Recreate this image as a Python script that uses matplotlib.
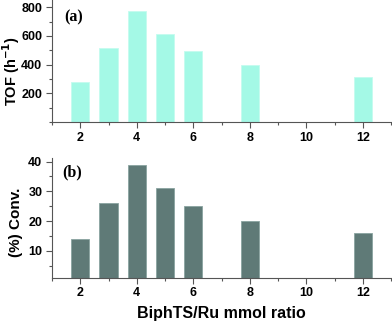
import matplotlib
matplotlib.use("Agg")
import matplotlib.pyplot as plt
from matplotlib.ticker import MultipleLocator

# BiphTS/Ru ratios and measured values
ratio = [2, 3, 4, 5, 6, 8, 12]
tof = [280, 515, 775, 615, 495, 395, 315]
conv = [14, 26, 39, 31, 25, 20, 16]

plt.rcParams['font.family'] = ['Liberation Sans', 'DejaVu Sans']
plt.rcParams['font.weight'] = 'bold'
plt.rcParams['mathtext.default'] = 'bf'

fig = plt.figure(figsize=(3.92, 3.23), dpi=100)
ax1 = fig.add_axes([0.1327, 0.6223, 0.865, 0.3777])
ax2 = fig.add_axes([0.1327, 0.1402, 0.865, 0.3706])


def style(ax):
    for s in ['top', 'right']:
        ax.spines[s].set_visible(False)
    for s in ['left', 'bottom']:
        ax.spines[s].set_color('#555555')
        ax.spines[s].set_linewidth(0.8)
    ax.set_xlim(1, 13)
    ax.xaxis.set_major_locator(MultipleLocator(2))
    ax.xaxis.set_minor_locator(MultipleLocator(1))
    ax.tick_params(which='both', direction='out', color='#555555', width=0.8)
    ax.tick_params(which='major', length=4, labelsize=9, pad=3)
    ax.tick_params(which='minor', length=2.5)


# (a) turnover frequency
ax1.bar(ratio, tof, width=0.65, color='#a4f9e6', edgecolor='#c4fcef', linewidth=0.6)
style(ax1)
ax1.set_ylim(0, 850)
ax1.yaxis.set_minor_locator(MultipleLocator(100))
ax1.set_yticks([200, 400, 600, 800])
ax1.set_ylabel('TOF (h$^{-1}$)', fontsize=10.5, fontweight='bold')
ax1.yaxis.set_label_coords(-0.09, 0.42)
ax1.text(1.45, 730, '(a)', fontsize=11.5, fontweight='bold',
         family='Liberation Serif', va='center', ha='left')

# (b) conversion
ax2.bar(ratio, conv, width=0.65, color='#5f7a77', edgecolor='#8aa3a0', linewidth=0.6)
style(ax2)
ax2.set_ylim(1, 41.2)
ax2.yaxis.set_minor_locator(MultipleLocator(5))
ax2.set_yticks([10, 20, 30, 40])
ax2.set_ylabel('(%) Conv.', fontsize=11, fontweight='bold')
ax2.yaxis.set_label_coords(-0.085, 0.46)
ax2.text(1.35, 36.5, '(b)', fontsize=11.5, fontweight='bold',
         family='Liberation Serif', va='center', ha='left')
ax2.set_xlabel('BiphTS/Ru mmol ratio', fontsize=11.5, fontweight='bold', labelpad=5)

for ax in (ax1, ax2):
    for lab in ax.get_xticklabels() + ax.get_yticklabels():
        lab.set_fontweight('bold')

fig.savefig('out.png', dpi=100)
